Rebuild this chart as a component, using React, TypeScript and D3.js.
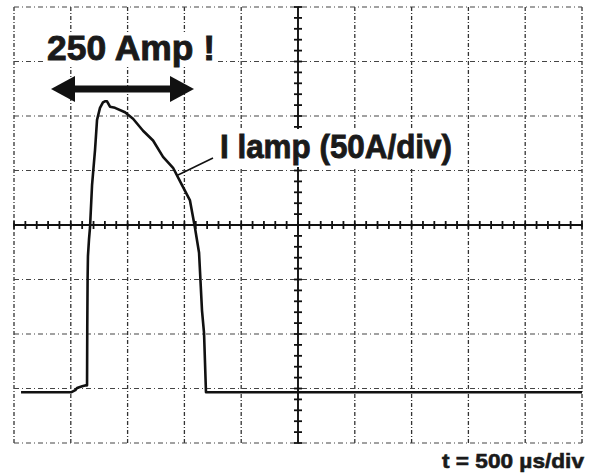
import React from "react";
import * as d3 from "d3";

// Oscilloscope trace: time (µs) vs lamp current (A), baseline = 0 A
const timeUs = [0, 62, 300, 502, 540, 555, 600, 634, 643, 645, 648, 651, 660, 669, 687, 713, 731, 757, 783, 800, 819, 845, 889, 977, 1048, 1136, 1224, 1312, 1400, 1479, 1549, 1593, 1629, 1655, 1673, 1690, 1700, 3000, 5000];
const currentA = [null, 0, 0, 0, 2, 4, 5.5, 6.4, 6.4, 60, 105, 125, 140, 151, 190, 222, 250, 261, 266, 267, 267, 262, 261, 257, 251, 240, 231, 216, 206, 190, 176, 151, 128, 75, 54, 0, 0, 0, 0];
const xDivs = [0, 1, 2, 3, 4, 5, 6, 7, 8, 9, 10];
const yDivs = [-4, -3, -2, -1, 0, 1, 2, 3, 4];
const usPerDiv = 500;
const ampPerDiv = 50;
const traceOffsetDiv = -3.07;
const titleText = "250 Amp !";
const traceLabel = "I lamp (50A/div)";
const timebaseLabel = "t = 500 µs/div";

export default function App() {
  const W = 591, H = 475;
  const L = 14, R = 582, T = 7, B = 443;
  const xDiv = d3.scaleLinear().domain([0, 10]).range([L, R]);
  const yDiv = d3.scaleLinear().domain([-4, 4]).range([B, T]);
  const x = d3.scaleLinear().domain([0, 10 * usPerDiv]).range([L, R]);
  const y = d3
    .scaleLinear()
    .domain([(-4 - traceOffsetDiv) * ampPerDiv, (4 - traceOffsetDiv) * ampPerDiv])
    .range([B, T]);

  const pts = timeUs
    .map((t, i) => [t, currentA[i]] as [number, number | null])
    .filter((p) => p[1] !== null) as [number, number][];
  const line = d3
    .line<[number, number]>()
    .x((d) => x(d[0]))
    .y((d) => y(d[1]))
    .curve(d3.curveLinear);

  const minor = d3.range(-20, 21).map((i) => i / 5);
  const minorX = d3.range(0, 51).map((i) => i / 5);
  const cx = xDiv(5), cy = yDiv(0);
  const font = "'Liberation Sans', Arial, sans-serif";

  // arrow geometry
  const ay = 89, ax1 = 51, ax2 = 194, ah = 24, aw = 13;

  return (
    <svg width={W} height={H} style={{ position: "absolute", left: 0, top: 0, background: "#fff" }}>
      <rect width={W} height={H} fill="#fff" />
      {/* grid */}
      {xDivs.map((d) => (
        <line key={"vx" + d} x1={xDiv(d)} x2={xDiv(d)} y1={T} y2={B}
          stroke="#333" strokeWidth={1.3} strokeDasharray={d === 5 ? "none" : "4,2,1,2"} />
      ))}
      {yDivs.map((d) => (
        <line key={"hy" + d} x1={L} x2={R} y1={yDiv(d)} y2={yDiv(d)}
          stroke="#444" strokeWidth={1.2} strokeDasharray={d === 0 ? "none" : "5,3,1,3"} />
      ))}
      {/* center axes */}
      <line x1={cx} x2={cx} y1={T} y2={B} stroke="#111" strokeWidth={1.8} />
      <line x1={L} x2={R} y1={cy} y2={cy} stroke="#111" strokeWidth={1.8} />
      {minor.map((v) => (
        <line key={"ty" + v} x1={cx - 4} x2={cx + 4} y1={yDiv(v)} y2={yDiv(v)} stroke="#111" strokeWidth={1.8} />
      ))}
      {minorX.map((v) => (
        <line key={"tx" + v} x1={xDiv(v)} x2={xDiv(v)} y1={cy - 4} y2={cy + 4} stroke="#111" strokeWidth={1.8} />
      ))}
      {/* trace */}
      <path d={line(pts) || ""} fill="none" stroke="#111" strokeWidth={2.6} strokeLinejoin="round" />
      {/* double arrow */}
      <line x1={ax1 + ah - 2} x2={ax2 - ah + 2} y1={ay} y2={ay} stroke="#111" strokeWidth={7} />
      <polygon points={`${ax1},${ay} ${ax1 + ah},${ay - aw} ${ax1 + ah},${ay + aw}`} fill="#111" />
      <polygon points={`${ax2},${ay} ${ax2 - ah},${ay - aw} ${ax2 - ah},${ay + aw}`} fill="#111" />
      {/* leader */}
      <line x1={178} y1={175} x2={213} y2={158} stroke="#111" strokeWidth={1.5} />
      {/* labels */}
      <rect x={44} y={32} width={174} height={33} fill="#fff" />
      <text x={47} y={60} fontFamily={font} fontWeight="bold" fontSize={35} textLength={168} lengthAdjust="spacingAndGlyphs" fill="#1a1a1a" stroke="#1a1a1a" strokeWidth={0.9}>{titleText}</text>
      <rect x={217} y={129} width={240} height={38} fill="#fff" />
      <text x={220} y={158} fontFamily={font} fontWeight="bold" fontSize={34} textLength={232} lengthAdjust="spacingAndGlyphs" fill="#1a1a1a" stroke="#1a1a1a" strokeWidth={0.9}>{traceLabel}</text>
      <text x={584} y={468} textAnchor="end" fontFamily={font} fontWeight="bold" fontSize={21} textLength={142} lengthAdjust="spacingAndGlyphs" fill="#1a1a1a" stroke="#1a1a1a" strokeWidth={0.6}>{timebaseLabel}</text>
    </svg>
  );
}
